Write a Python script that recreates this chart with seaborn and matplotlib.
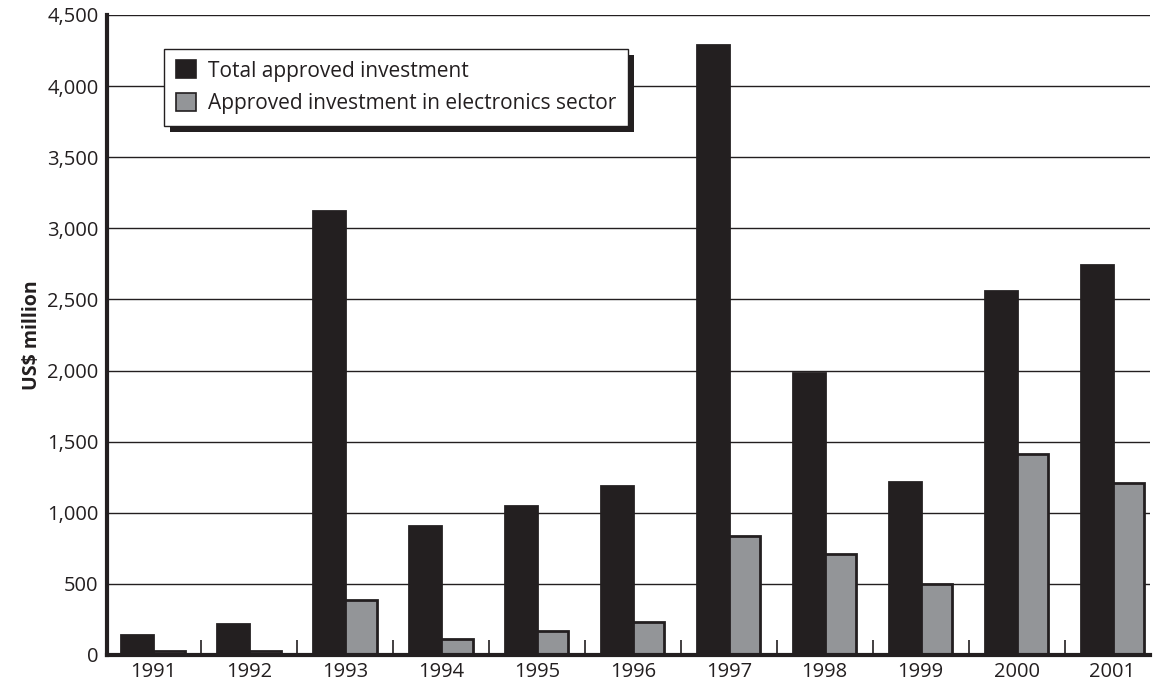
import pandas as pd
import matplotlib.pyplot as plt
import matplotlib.patches as mpatches
from matplotlib.ticker import FuncFormatter, FixedLocator
import seaborn as sns

# Values (US$ million)
years = ['1991', '1992', '1993', '1994', '1995', '1996', '1997', '1998', '1999', '2000', '2001']
total_investment = [140, 215, 3120, 910, 1050, 1190, 4290, 1985, 1215, 2560, 2740]
electronics_investment = [25, 30, 390, 115, 170, 230, 835, 710, 500, 1415, 1210]

series_names = ['Total approved investment', 'Approved investment in electronics sector']

data = pd.DataFrame({
    'Year': years * 2,
    'Value': total_investment + electronics_investment,
    'Series': [series_names[0]] * len(years) + [series_names[1]] * len(years),
})

colors = {series_names[0]: '#231f20', series_names[1]: '#939598'}

sns.set_style('white')
plt.rcParams['font.family'] = ['Open Sans', 'DejaVu Sans']

fig = plt.figure(figsize=(11.54, 6.87), dpi=100)
ax = fig.add_axes([0.0927, 0.0466, 0.9038, 0.9316])

sns.barplot(x='Year', y='Value', hue='Series', data=data, order=years,
            hue_order=series_names, palette=colors, width=0.66, dodge=True,
            edgecolor='#231f20', linewidth=2, saturation=1, ax=ax, legend=False)

# Horizontal gridlines
ax.set_ylim(0, 4500)
ax.set_yticks(range(0, 4501, 500))
ax.yaxis.set_major_formatter(FuncFormatter(lambda v, p: f'{int(v):,}'))
ax.grid(axis='y', color='#231f20', linewidth=1)
ax.set_axisbelow(True)
ax.set_xlim(-0.48, 10.39)

for side in ['top', 'right']:
    ax.spines[side].set_visible(False)
for side in ['left', 'bottom']:
    ax.spines[side].set_linewidth(3)
    ax.spines[side].set_color('#231f20')

ax.tick_params(axis='y', length=0, labelsize=14.5, pad=6, labelcolor='#231f20')
ax.tick_params(axis='x', which='major', length=0, labelsize=14.5, pad=5, labelcolor='#231f20')
# small separators between year groups
ax.xaxis.set_minor_locator(FixedLocator([i + 0.5 for i in range(len(years) - 1)]))
ax.tick_params(axis='x', which='minor', bottom=True, direction='in', length=11,
               width=1.2, color='#231f20')

ax.set_xlabel('')
ax.set_ylabel('US$ million', fontsize=14, fontweight='bold', color='#231f20', labelpad=4)

handles = [mpatches.Patch(facecolor=colors[s], edgecolor='#231f20', linewidth=1.2, label=s)
           for s in series_names]
leg = ax.legend(handles=handles, loc='upper left', bbox_to_anchor=(0.055, 0.947),
                borderaxespad=0, fancybox=False, frameon=True, framealpha=1, fontsize=15,
                handlelength=0.95, handleheight=0.95, handletextpad=0.6,
                labelspacing=0.55, borderpad=0.55, labelcolor='#231f20')
leg.get_frame().set_edgecolor('#231f20')
leg.get_frame().set_linewidth(1)
leg.set_zorder(10)

# drop shadow behind the legend box
fig.canvas.draw()
bb = leg.get_window_extent()
shadow = mpatches.Rectangle((bb.x0 + 6, bb.y0 - 6), bb.width, bb.height,
                            transform=None, facecolor='#231f20', edgecolor='none', zorder=9)
ax.add_artist(shadow)

plt.savefig('out.png', dpi=100)
